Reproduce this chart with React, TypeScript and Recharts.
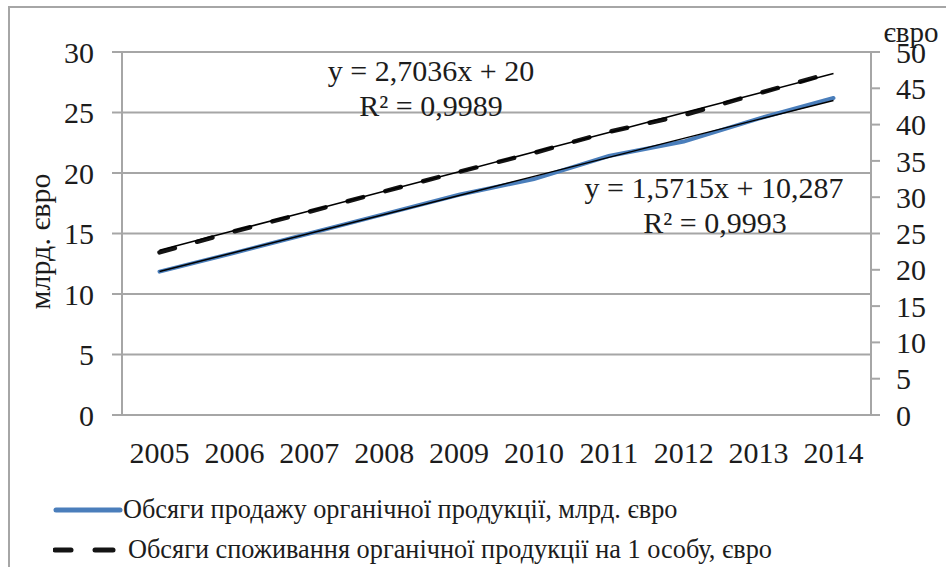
import { CartesianGrid, Line, LineChart, XAxis, YAxis } from 'recharts';

const YEARS = ['2005', '2006', '2007', '2008', '2009', '2010', '2011', '2012', '2013', '2014'];
// млрд. євро (left axis)
const SALES = [11.85, 13.4, 15.0, 16.6, 18.2, 19.5, 21.4, 22.6, 24.5, 26.2];
// євро на 1 особу (right axis)
const PER_CAPITA = [22.4, 25.3, 28.0, 30.8, 33.5, 36.1, 39.0, 41.3, 44.3, 47.2];
const SALES_TREND = [11.86, 13.43, 15.0, 16.57, 18.14, 19.72, 21.29, 22.86, 24.43, 26.0];
const PER_CAPITA_TREND = [22.7, 25.41, 28.11, 30.81, 33.51, 36.22, 38.92, 41.63, 44.33, 47.04];

const LEFT_TICKS = [0, 5, 10, 15, 20, 25, 30];
const RIGHT_TICKS = [0, 5, 10, 15, 20, 25, 30, 35, 40, 45, 50];
const CATEGORY_BOUNDS = [0, 1, 2, 3, 4, 5, 6, 7, 8, 9, 10];

const SERIES_NAMES = [
  'Обсяги продажу органічної продукції, млрд. євро',
  'Обсяги споживання органічної продукції на 1 особу, євро',
];
const LEFT_AXIS_TITLE = 'млрд. євро';
const RIGHT_AXIS_TITLE = 'євро';
const PER_CAPITA_EQUATION = ['y = 2,7036x + 20', 'R² = 0,9989'];
const SALES_EQUATION = ['y = 1,5715x + 10,287', 'R² = 0,9993'];

const FONT = '"Liberation Serif", "Times New Roman", serif';
const INK = '#1c1c1c';
const GRID = '#a6a6a6';
const BLUE = '#4a7ebb';

const data = YEARS.map((year, i) => ({
  year,
  sales: SALES[i],
  perCapita: PER_CAPITA[i],
  salesTrend: SALES_TREND[i],
  perCapitaTrend: PER_CAPITA_TREND[i],
}));

const axisStroke = { stroke: GRID, strokeWidth: 2 };
const tickFont = { fontSize: 30, fill: INK, fontFamily: FONT };

const LeftTitle = ({ viewBox }: any) => {
  const cy = viewBox.y + viewBox.height / 2 + 8;
  return (
    <text
      x={50}
      y={cy}
      transform={`rotate(-90, 50, ${cy})`}
      textAnchor="middle"
      fontSize={30}
      fontFamily={FONT}
      fill={INK}
    >
      {LEFT_AXIS_TITLE}
    </text>
  );
};

const RightTitle = ({ viewBox }: any) => (
  <text x={viewBox.x + 40} y={viewBox.y - 10} textAnchor="middle" fontSize={29} fontFamily={FONT} fill={INK}>
    {RIGHT_AXIS_TITLE}
  </text>
);

export default function App() {
  return (
    <div style={{ position: 'fixed', left: 0, top: 0, width: 946, height: 567, background: '#fff', overflow: 'hidden' }}>
      <div
        style={{
          position: 'absolute',
          left: 8,
          top: 6,
          width: 960,
          height: 600,
          borderLeft: `2px solid ${GRID}`,
          borderTop: `2px solid ${GRID}`,
        }}
      />
      <div style={{ position: 'absolute', left: 0, top: 0 }}>
        <LineChart width={946} height={567} data={data} margin={{ top: 52, right: 15, bottom: 102, left: 0 }}>
          <CartesianGrid xAxisId="cat" yAxisId="left" vertical={false} stroke={GRID} strokeWidth={2} />
          <XAxis
            xAxisId="bounds"
            type="number"
            domain={[0, 10]}
            ticks={CATEGORY_BOUNDS}
            allowDataOverflow
            tick={false}
            tickSize={8}
            height={10}
            axisLine={axisStroke}
            tickLine={axisStroke}
          />
          <XAxis
            xAxisId="cat"
            dataKey="year"
            interval={0}
            padding={{ left: 37.5, right: 37.5 }}
            axisLine={false}
            tickLine={false}
            tickSize={0}
            tickMargin={17}
            height={40}
            tick={tickFont}
          />
          <YAxis
            yAxisId="left"
            width={122}
            domain={[0, 30]}
            ticks={LEFT_TICKS}
            interval={0}
            tickSize={10}
            tickMargin={18}
            axisLine={axisStroke}
            tickLine={axisStroke}
            tick={tickFont}
            label={{ content: LeftTitle }}
          />
          <YAxis
            yAxisId="right"
            orientation="right"
            width={60}
            domain={[0, 50]}
            ticks={RIGHT_TICKS}
            interval={0}
            tickSize={9}
            tickMargin={16}
            axisLine={axisStroke}
            tickLine={axisStroke}
            tick={tickFont}
            label={{ content: RightTitle }}
          />
          <Line
            xAxisId="cat"
            yAxisId="left"
            dataKey="sales"
            name={SERIES_NAMES[0]}
            stroke={BLUE}
            strokeWidth={4}
            strokeLinecap="round"
            dot={false}
            isAnimationActive={false}
          />
          <Line
            xAxisId="cat"
            yAxisId="right"
            dataKey="perCapita"
            name={SERIES_NAMES[1]}
            stroke="#141414"
            strokeWidth={4.5}
            strokeDasharray="16 23"
            strokeLinecap="round"
            dot={false}
            isAnimationActive={false}
          />
          <Line
            xAxisId="cat"
            yAxisId="left"
            dataKey="salesTrend"
            stroke="#000"
            strokeWidth={1.5}
            dot={false}
            isAnimationActive={false}
          />
          <Line
            xAxisId="cat"
            yAxisId="right"
            dataKey="perCapitaTrend"
            stroke="#000"
            strokeWidth={1.5}
            dot={false}
            isAnimationActive={false}
          />
        </LineChart>
      </div>

      <svg width={946} height={567} style={{ position: 'absolute', left: 0, top: 0, pointerEvents: 'none' }}>
        <g fontFamily={FONT} fontSize={30} fill={INK} textAnchor="middle">
          <text x={431} y={81}>{PER_CAPITA_EQUATION[0]}</text>
          <text x={431} y={116}>{PER_CAPITA_EQUATION[1]}</text>
          <text x={714} y={198}>{SALES_EQUATION[0]}</text>
          <text x={715} y={233}>{SALES_EQUATION[1]}</text>
        </g>
      </svg>

      <div style={{ position: 'absolute', left: 53, top: 493, fontFamily: FONT, fontSize: 26.3, color: INK }}>
        <div style={{ display: 'flex', alignItems: 'center', height: 34 }}>
          <svg width={70} height={10}>
            <line x1={3} y1={5} x2={67} y2={5} stroke={BLUE} strokeWidth={5} strokeLinecap="round" />
          </svg>
          <span style={{ whiteSpace: 'nowrap' }}>{SERIES_NAMES[0]}</span>
        </div>
        <div style={{ display: 'flex', alignItems: 'center', height: 38, marginTop: 4 }}>
          <svg width={75} height={10}>
            <line x1={2} y1={5} x2={18} y2={5} stroke="#141414" strokeWidth={5} strokeLinecap="round" />
            <line x1={42} y1={5} x2={60} y2={5} stroke="#141414" strokeWidth={5} strokeLinecap="round" />
          </svg>
          <span style={{ whiteSpace: 'nowrap' }}>{SERIES_NAMES[1]}</span>
        </div>
      </div>
    </div>
  );
}
